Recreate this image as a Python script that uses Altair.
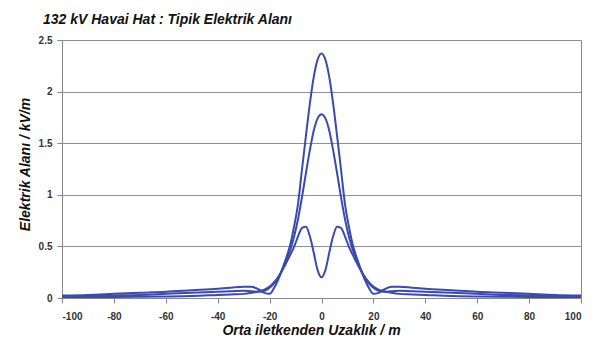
import altair as alt
import pandas as pd

x_m = [-100, -90, -80, -70, -60, -50, -40, -35, -30, -27, -24, -22, -20, -18, -16, -14, -12, -10.5, -9, -7.5, -6, -4.5, -3, -1.5,
       0, 1.5, 3, 4.5, 6, 7.5, 9, 10.5, 12, 14, 16, 18, 20, 22, 24, 27, 30, 35, 40, 50, 60, 70, 80, 90, 100]

curve_a = [0.025, 0.03, 0.04, 0.05, 0.06, 0.075, 0.09, 0.1, 0.11, 0.11, 0.08, 0.05, 0.04, 0.11, 0.22, 0.36, 0.52, 0.7, 0.92, 1.25, 1.57, 1.88, 2.14, 2.31,
           2.37, 2.31, 2.14, 1.88, 1.57, 1.25, 0.92, 0.7, 0.52, 0.36, 0.22, 0.11, 0.04, 0.05, 0.08, 0.11, 0.11, 0.1, 0.09, 0.075, 0.06, 0.05, 0.04, 0.03, 0.025]

curve_b = [0.015, 0.02, 0.025, 0.03, 0.04, 0.05, 0.06, 0.065, 0.07, 0.065, 0.06, 0.07, 0.1, 0.15, 0.23, 0.34, 0.47, 0.6, 0.77, 0.98, 1.21, 1.43, 1.62, 1.74,
           1.78, 1.74, 1.62, 1.43, 1.21, 0.98, 0.77, 0.6, 0.47, 0.34, 0.23, 0.15, 0.1, 0.07, 0.06, 0.065, 0.07, 0.065, 0.06, 0.05, 0.04, 0.03, 0.025, 0.02, 0.015]

curve_c = [0.01, 0.01, 0.01, 0.012, 0.015, 0.02, 0.03, 0.035, 0.04, 0.05, 0.065, 0.08, 0.11, 0.16, 0.23, 0.32, 0.42, 0.5, 0.6, 0.68, 0.69, 0.6, 0.44, 0.27,
           0.2, 0.27, 0.44, 0.6, 0.69, 0.68, 0.6, 0.5, 0.42, 0.32, 0.23, 0.16, 0.11, 0.08, 0.065, 0.05, 0.04, 0.035, 0.03, 0.02, 0.015, 0.012, 0.01, 0.01, 0.01]

x_ticks = [-100, -80, -60, -40, -20, 0, 20, 40, 60, 80, 100]
y_ticks = [0, 0.5, 1, 1.5, 2, 2.5]

rows = []
for name, vals in [("A", curve_a), ("B", curve_b), ("C", curve_c)]:
    for xv, yv in zip(x_m, vals):
        rows.append({"x": xv, "y": yv, "series": name})
df = pd.DataFrame(rows)

FONT = "Liberation Sans"

chart = alt.Chart(df).mark_line(
    color="#3a4aae", strokeWidth=2, interpolate="monotone"
).encode(
    x=alt.X("x:Q", scale=alt.Scale(domain=[-100, 100], nice=False),
            axis=alt.Axis(values=x_ticks, grid=False, title="Orta iletkenden Uzaklık / m",
                          labelExpr="datum.value + ''",
                          tickSize=5, labelPadding=8, domainColor="#888", tickColor="#888",
                          labelFont=FONT, labelFontSize=10, labelFontWeight="bold", labelColor="#333",
                          titleFont=FONT, titleFontSize=14, titleFontWeight="bold", titleFontStyle="italic",
                          titleColor="#111", titleX=249, titleY=36, titleBaseline="alphabetic",
                          titleAlign="center")),
    y=alt.Y("y:Q", scale=alt.Scale(domain=[0, 2.5], nice=False),
            axis=alt.Axis(values=y_ticks, grid=True, gridColor="#8f8f8f", gridWidth=1,
                          labelExpr="datum.value + ''",
                          title="Elektrik Alanı / kV/m", tickSize=5, labelPadding=5,
                          domainColor="#888", tickColor="#888",
                          labelFont=FONT, labelFontSize=10, labelFontWeight="bold", labelColor="#333",
                          titleFont=FONT, titleFontSize=14, titleFontWeight="bold", titleFontStyle="italic",
                          titleColor="#111", titleX=-37, titleY=124, titleAngle=-90,
                          titleBaseline="middle", titleAlign="center")),
    detail="series:N",
).properties(
    width=519,
    height=258,
    autosize=alt.AutoSizeParams(type="none"),
    padding={"left": 54, "top": 32, "right": 9, "bottom": 46},
    background="white",
    title=alt.TitleParams("132 kV Havai Hat : Tipik Elektrik Alanı", anchor="start", frame="group",
                          font=FONT, fontSize=14, fontWeight="bold", fontStyle="italic",
                          color="#111", dx=-19, dy=21, offset=18, baseline="alphabetic"),
).configure_view(
    stroke="#888", strokeWidth=1
)

chart.save("out.html", embed_options={"renderer": "svg", "actions": False})
